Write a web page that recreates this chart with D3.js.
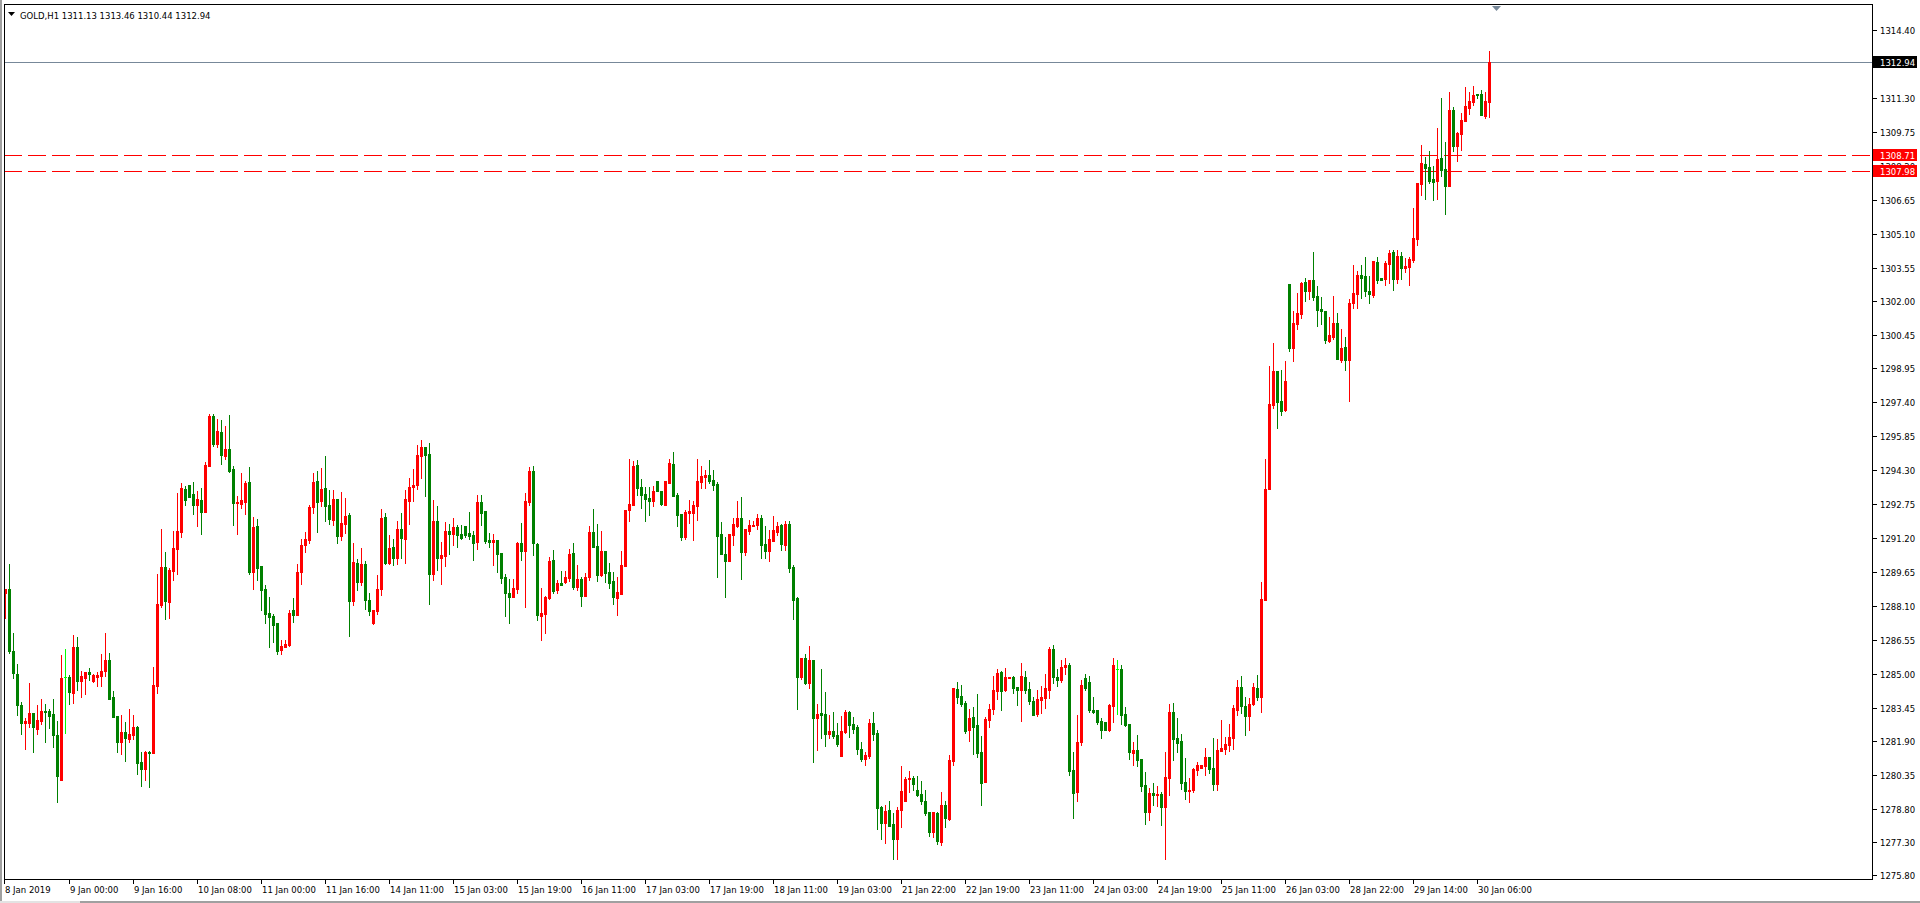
<!DOCTYPE html>
<html>
<head>
<meta charset="utf-8">
<script src="https://cdn.jsdelivr.net/npm/d3@7/dist/d3.min.js"></script>
<style>
html,body{margin:0;padding:0;background:#fff;overflow:hidden;}
svg{display:block;}
text{font-family:"DejaVu Sans",sans-serif;}
</style>
</head>
<body>
<svg id="chart" width="1920" height="903"></svg>
<script>
// ---- data (GOLD, H1) ----
const opens = [
1288.67,1288.86,1286.03,1284.98,1283.58,1282.76,1282.76,1283.20,1282.48,1282.83,
1283.29,1283.29,1283.15,1282.19,1280.15,1284.84,1284.84,1284.13,1286.21,1284.67,
1284.81,1285.07,1284.67,1284.86,1284.89,1285.12,1285.62,1283.93,1283.06,1281.89,
1282.33,1282.03,1282.21,1282.56,1280.96,1280.66,1281.42,1281.36,1284.45,1288.14,
1289.87,1288.29,1289.69,1290.71,1291.48,1293.43,1293.62,1293.21,1292.72,1292.93,
1292.40,1294.50,1296.77,1295.50,1296.04,1294.96,1295.26,1294.35,1292.81,1292.76,
1292.86,1293.75,1289.64,1291.74,1289.92,1288.87,1287.77,1287.63,1287.31,1286.08,
1286.22,1286.31,1287.91,1287.68,1289.64,1290.86,1291.10,1292.61,1293.80,1292.90,
1293.48,1292.70,1292.02,1292.98,1291.29,1291.83,1292.24,1288.32,1290.05,1289.18,
1290.01,1288.36,1287.31,1287.86,1288.86,1292.15,1290.05,1290.78,1290.28,1291.61,
1291.15,1292.89,1293.53,1293.62,1294.94,1295.35,1295.03,1289.55,1291.97,1290.28,
1290.37,1291.51,1291.38,1291.70,1291.38,1291.75,1291.43,1291.33,1291.02,1292.84,
1292.43,1291.11,1291.02,1291.11,1290.51,1289.42,1288.69,1288.50,1288.87,1290.97,
1290.60,1292.84,1294.26,1290.92,1287.64,1287.73,1288.46,1290.19,1288.82,1289.14,
1289.19,1289.37,1290.51,1288.96,1289.33,1288.55,1289.42,1291.47,1290.83,1289.51,
1290.60,1289.64,1289.23,1288.45,1288.64,1289.91,1292.47,1292.70,1294.53,1293.52,
1293.20,1293.02,1292.89,1293.80,1293.34,1292.70,1293.71,1294.57,1293.16,1292.29,
1291.24,1292.34,1292.34,1292.66,1293.75,1293.98,1294.07,1293.84,1293.66,1291.38,
1290.46,1290.14,1291.33,1291.74,1292.11,1290.55,1291.51,1291.74,1291.79,1292.11,
1290.92,1290.60,1291.06,1291.47,1291.79,1290.87,1291.83,1289.87,1288.45,1284.84,
1285.71,1284.57,1285.62,1282.97,1283.20,1283.15,1282.24,1282.38,1282.19,1281.24,
1282.33,1283.25,1282.70,1282.56,1281.56,1281.10,1281.24,1282.74,1282.29,1278.91,
1278.17,1278.77,1278.13,1277.44,1278.77,1279.18,1280.18,1280.23,1279.68,1279.50,
1279.18,1278.68,1277.76,1278.63,1277.31,1279.00,1278.36,1281.01,1284.30,1283.98,
1283.66,1282.42,1283.02,1282.65,1281.42,1280.05,1282.88,1283.38,1284.20,1285.07,
1284.25,1284.80,1284.84,1284.39,1284.25,1284.84,1284.30,1283.75,1283.15,1283.79,
1283.88,1284.25,1286.12,1284.84,1284.70,1285.30,1285.40,1280.60,1279.59,1281.88,
1284.80,1284.60,1283.34,1283.34,1282.83,1282.79,1282.42,1283.52,1285.20,1285.20,
1283.15,1282.70,1281.37,1281.51,1281.10,1279.91,1278.68,1279.55,1279.45,1279.50,
1278.91,1280.23,1283.25,1282.06,1281.92,1280.05,1279.64,1279.68,1280.60,1280.69,
1280.79,1281.17,1280.70,1279.95,1281.47,1281.56,1281.75,1282.06,1283.34,1284.39,
1283.53,1283.07,1283.62,1284.35,1283.94,1288.37,1293.44,1297.27,1298.83,1297.46,
1297.04,1302.80,1299.87,1300.97,1301.43,1302.89,1302.48,1302.99,1302.25,1301.66,
1301.57,1300.20,1300.37,1301.02,1299.34,1299.92,1299.34,1301.91,1302.34,1303.21,
1303.16,1302.48,1302.29,1303.80,1303.07,1303.02,1303.71,1304.26,1303.02,1304.07,
1303.53,1303.57,1303.89,1304.85,1307.36,1308.28,1308.14,1307.59,1307.50,1308.55,
1308.05,1307.27,1310.74,1309.10,1309.65,1310.24,1310.84,1311.11,1311.47,1311.47,
1310.47,1311.13
];
const highs = [
1288.86,1290.01,1286.85,1285.44,1283.69,1282.97,1284.57,1283.20,1283.58,1283.84,
1283.61,1283.38,1283.84,1282.83,1285.85,1286.12,1284.93,1286.76,1286.67,1285.12,
1285.07,1285.27,1284.98,1285.07,1285.90,1286.85,1285.94,1284.20,1283.06,1283.11,
1282.79,1283.38,1283.11,1282.60,1281.42,1281.48,1281.48,1285.30,1289.55,1291.61,
1290.56,1289.83,1291.51,1293.25,1293.71,1293.57,1293.62,1293.75,1293.34,1293.48,
1294.67,1296.86,1296.86,1296.63,1296.59,1296.31,1296.81,1294.48,1293.11,1294.16,
1293.78,1294.44,1292.16,1292.06,1289.92,1289.05,1288.50,1287.72,1287.31,1286.54,
1286.54,1287.91,1288.45,1290.01,1291.15,1291.47,1292.70,1294.16,1294.26,1294.39,
1294.94,1293.39,1293.39,1292.98,1293.30,1293.02,1292.34,1290.97,1290.24,1290.74,
1290.14,1288.68,1287.91,1289.50,1292.52,1292.34,1291.33,1291.15,1291.97,1292.34,
1293.39,1293.94,1294.35,1295.44,1295.67,1295.35,1295.53,1292.93,1292.66,1291.01,
1291.93,1291.83,1292.11,1291.79,1291.79,1291.75,1292.39,1291.52,1293.16,1293.16,
1292.43,1291.43,1291.38,1291.11,1290.51,1289.55,1289.33,1289.33,1291.02,1291.88,
1293.25,1294.44,1294.49,1290.97,1288.91,1288.55,1290.33,1290.65,1289.28,1289.69,
1289.69,1290.70,1290.97,1289.96,1289.42,1289.60,1291.75,1292.52,1291.84,1291.52,
1290.60,1290.05,1289.64,1289.41,1290.60,1292.47,1294.80,1294.71,1294.76,1293.89,
1293.52,1293.52,1293.57,1293.80,1293.34,1293.80,1294.80,1295.12,1293.25,1292.29,
1292.47,1292.93,1292.88,1294.80,1294.48,1294.30,1294.76,1294.30,1293.75,1291.93,
1291.24,1291.38,1292.11,1292.88,1293.07,1291.61,1292.02,1291.97,1292.29,1292.24,
1291.74,1291.56,1292.20,1291.92,1291.83,1291.97,1291.97,1289.96,1288.50,1285.71,
1285.89,1286.26,1285.62,1283.61,1285.21,1284.16,1283.11,1283.25,1282.74,1283.06,
1283.34,1283.29,1283.02,1282.65,1281.87,1281.42,1282.93,1283.25,1282.42,1278.95,
1279.00,1279.18,1278.63,1278.91,1280.78,1280.28,1280.55,1280.32,1280.32,1280.09,
1279.68,1278.68,1278.68,1278.68,1279.59,1279.18,1281.28,1284.34,1284.62,1284.48,
1283.75,1283.38,1283.47,1284.07,1282.15,1283.02,1283.61,1284.89,1285.21,1285.12,
1285.26,1284.84,1284.89,1284.39,1285.48,1285.12,1284.62,1283.93,1284.25,1284.43,
1284.98,1286.21,1286.31,1285.20,1285.60,1285.70,1285.50,1281.42,1283.11,1284.70,
1285.00,1284.90,1283.93,1283.34,1282.97,1282.79,1283.61,1285.70,1285.60,1285.40,
1283.47,1282.70,1281.88,1282.19,1281.10,1280.51,1279.77,1280.00,1279.87,1279.59,
1281.42,1283.61,1283.66,1282.97,1282.24,1281.14,1280.23,1280.69,1280.96,1280.83,
1281.62,1281.17,1282.06,1282.02,1282.88,1282.11,1282.71,1283.57,1284.71,1284.90,
1283.94,1283.89,1284.58,1284.94,1289.19,1294.81,1299.05,1300.11,1298.83,1298.88,
1299.29,1302.80,1301.57,1302.39,1302.89,1303.08,1302.99,1304.26,1302.72,1302.20,
1301.57,1301.29,1302.25,1301.47,1300.75,1300.37,1302.12,1303.66,1303.39,1303.66,
1304.03,1303.16,1303.85,1304.03,1303.07,1303.85,1304.35,1304.35,1304.35,1304.26,
1303.98,1304.03,1306.27,1307.41,1309.15,1308.60,1308.87,1308.19,1309.92,1311.29,
1309.28,1311.57,1310.88,1309.74,1310.61,1311.79,1311.57,1311.84,1311.47,1311.66,
1311.57,1313.46
];
const lows = [
1287.55,1285.92,1284.78,1283.12,1282.24,1281.57,1282.57,1281.43,1282.24,1282.69,
1281.89,1282.53,1281.66,1279.15,1280.15,1282.30,1283.62,1283.67,1284.25,1283.94,
1284.08,1284.72,1284.63,1284.45,1284.45,1284.90,1283.85,1283.03,1281.43,1281.34,
1281.02,1281.89,1282.03,1280.43,1279.88,1280.15,1279.83,1281.36,1284.13,1288.06,
1287.50,1287.54,1289.28,1289.55,1291.26,1292.70,1293.08,1292.29,1291.74,1291.38,
1292.40,1294.50,1295.41,1295.37,1294.59,1294.82,1294.23,1291.79,1291.38,1292.58,
1292.29,1289.55,1288.87,1289.28,1287.91,1287.31,1286.22,1286.44,1285.90,1285.90,
1286.22,1286.26,1287.36,1287.68,1289.09,1290.57,1290.97,1292.34,1291.47,1292.66,
1291.97,1291.83,1291.79,1290.97,1291.10,1291.42,1286.72,1288.13,1288.82,1289.05,
1287.95,1287.68,1287.27,1287.72,1288.59,1290.01,1290.01,1289.96,1290.01,1290.28,
1290.05,1291.83,1292.89,1293.43,1293.94,1293.11,1288.18,1289.28,1289.73,1289.09,
1289.91,1290.46,1290.87,1290.79,1291.15,1291.24,1291.15,1290.19,1290.70,1291.79,
1290.97,1290.79,1289.96,1289.64,1289.14,1287.64,1287.32,1288.50,1288.69,1290.19,
1288.05,1292.70,1290.42,1287.45,1286.54,1286.86,1288.41,1288.69,1288.69,1289.05,
1289.14,1289.23,1288.87,1288.82,1288.09,1288.55,1289.28,1290.79,1289.23,1289.46,
1289.18,1288.91,1288.18,1287.68,1288.64,1289.91,1291.97,1292.70,1293.16,1292.56,
1291.97,1292.25,1292.66,1293.34,1292.70,1292.70,1293.71,1293.11,1291.74,1291.10,
1291.15,1291.88,1291.10,1292.02,1293.48,1293.48,1293.71,1293.39,1289.41,1290.46,
1288.50,1290.14,1290.87,1291.70,1289.32,1290.42,1291.38,1291.74,1291.60,1290.28,
1290.28,1290.14,1291.06,1291.33,1290.65,1290.65,1289.64,1287.49,1283.38,1284.75,
1284.52,1284.34,1280.96,1281.51,1282.06,1281.69,1282.06,1282.06,1281.69,1281.24,
1282.29,1282.10,1282.29,1281.33,1281.01,1280.82,1281.14,1281.97,1277.90,1277.44,
1277.26,1278.04,1276.53,1276.53,1277.99,1279.18,1279.59,1279.68,1279.41,1279.04,
1278.54,1277.58,1277.54,1277.22,1277.17,1277.99,1278.31,1280.82,1283.66,1283.52,
1282.29,1281.92,1281.33,1281.19,1279.00,1280.05,1282.56,1283.15,1283.84,1283.34,
1284.20,1284.80,1284.11,1283.57,1282.83,1284.11,1283.61,1283.11,1283.06,1283.20,
1283.43,1283.88,1284.57,1284.45,1284.60,1285.00,1280.37,1278.40,1279.18,1281.74,
1284.25,1283.25,1283.20,1282.70,1282.06,1282.42,1282.38,1282.79,1283.15,1282.70,
1282.61,1281.10,1280.83,1280.78,1279.64,1278.13,1278.31,1278.99,1278.95,1278.08,
1276.53,1279.45,1281.05,1281.42,1279.73,1279.27,1279.14,1279.59,1280.37,1280.69,
1280.35,1280.48,1279.70,1279.70,1281.47,1281.31,1281.47,1281.56,1283.12,1283.20,
1282.21,1282.43,1283.57,1283.80,1283.26,1288.37,1293.44,1297.13,1296.22,1296.82,
1296.99,1299.75,1299.29,1300.75,1301.26,1302.03,1302.12,1302.07,1300.88,1300.97,
1300.11,1300.15,1300.30,1299.37,1299.24,1298.88,1297.46,1301.68,1301.70,1302.16,
1302.25,1301.93,1302.20,1302.84,1302.98,1302.75,1302.84,1302.52,1302.84,1303.02,
1303.34,1302.75,1303.80,1304.59,1306.86,1306.68,1307.41,1306.63,1306.68,1307.73,
1305.99,1307.27,1308.87,1308.41,1308.92,1310.24,1310.56,1310.97,1311.29,1310.52,
1310.38,1310.44
];
const closes = [
1288.86,1286.05,1285.01,1283.58,1282.76,1282.83,1283.20,1282.54,1282.88,1283.29,
1283.24,1283.06,1282.19,1280.34,1284.81,1284.84,1284.17,1286.21,1284.67,1284.89,
1285.07,1284.99,1284.93,1284.93,1285.12,1285.62,1283.85,1283.03,1281.89,1282.33,
1282.07,1282.24,1282.56,1280.93,1280.66,1281.42,1281.36,1284.48,1288.18,1289.87,
1288.32,1289.73,1290.74,1291.51,1293.48,1292.95,1293.08,1292.72,1292.98,1292.40,
1294.53,1296.77,1295.50,1296.08,1295.00,1295.26,1294.27,1292.81,1292.86,1292.93,
1293.71,1289.64,1291.70,1289.84,1288.82,1287.72,1287.59,1287.22,1286.03,1286.26,
1286.35,1287.77,1287.68,1289.64,1290.88,1291.15,1292.61,1293.75,1292.85,1293.43,
1292.67,1292.06,1292.98,1291.29,1291.88,1292.20,1288.32,1290.10,1289.18,1290.01,
1288.36,1287.86,1287.91,1288.86,1292.11,1290.05,1290.74,1290.28,1291.61,1291.20,
1292.98,1293.53,1293.62,1294.99,1295.35,1294.99,1289.55,1291.97,1290.28,1290.42,
1291.51,1291.38,1291.70,1291.33,1291.20,1291.33,1291.29,1290.97,1292.84,1292.34,
1291.06,1291.02,1291.11,1290.47,1289.37,1288.69,1288.50,1288.91,1290.97,1290.60,
1292.89,1294.26,1290.97,1287.68,1287.77,1288.50,1290.15,1288.78,1289.14,1289.05,
1289.42,1290.47,1288.96,1289.33,1288.55,1289.42,1291.47,1290.79,1289.51,1290.60,
1289.60,1289.14,1288.50,1288.73,1289.96,1292.47,1292.75,1294.48,1293.48,1293.16,
1292.98,1292.89,1293.34,1293.34,1292.75,1293.80,1294.62,1293.11,1292.25,1291.24,
1292.38,1292.43,1292.70,1293.80,1294.03,1294.07,1293.80,1293.62,1291.29,1290.46,
1290.14,1291.38,1291.83,1292.11,1290.55,1291.61,1291.79,1291.79,1292.11,1290.87,
1290.60,1291.15,1291.56,1291.74,1290.92,1291.83,1289.82,1288.36,1284.84,1285.71,
1284.57,1285.62,1282.97,1283.15,1283.11,1282.24,1282.38,1282.15,1281.78,1282.38,
1283.25,1282.65,1282.47,1281.56,1281.10,1281.28,1282.74,1282.24,1278.86,1278.17,
1278.72,1278.04,1277.44,1278.77,1279.64,1280.18,1280.23,1279.96,1279.45,1279.18,
1278.63,1277.76,1278.68,1277.35,1279.00,1278.40,1281.05,1284.34,1283.93,1283.61,
1282.38,1282.97,1282.56,1281.37,1280.00,1282.93,1283.38,1284.25,1285.03,1284.20,
1284.84,1284.84,1284.34,1284.25,1284.89,1284.25,1283.75,1283.11,1283.84,1283.93,
1284.34,1286.12,1284.84,1284.70,1285.30,1285.40,1280.55,1279.55,1281.88,1284.50,
1284.35,1283.34,1283.25,1282.79,1282.42,1282.42,1283.57,1285.40,1285.20,1283.11,
1282.65,1281.42,1281.51,1281.05,1279.87,1278.68,1279.55,1279.45,1279.50,1278.91,
1280.28,1283.25,1282.01,1281.83,1280.00,1279.64,1279.68,1280.64,1280.83,1280.83,
1281.17,1280.63,1279.95,1281.51,1281.62,1281.80,1282.11,1283.43,1284.39,1283.53,
1283.07,1283.62,1284.39,1283.94,1288.42,1293.44,1297.32,1298.83,1297.42,1296.99,
1298.38,1299.87,1301.02,1301.47,1302.84,1302.48,1302.99,1302.20,1301.62,1301.57,
1300.25,1300.47,1301.02,1299.37,1299.87,1299.34,1301.93,1302.38,1303.21,1303.07,
1302.48,1302.34,1303.85,1302.98,1302.98,1303.76,1304.21,1303.02,1304.07,1303.53,
1303.62,1303.94,1304.90,1307.41,1308.32,1308.09,1307.50,1307.45,1308.51,1308.00,
1307.27,1310.74,1309.10,1309.69,1310.29,1310.93,1311.16,1311.43,1311.43,1310.52,
1311.16,1312.94
];

const timeLabels = ["8 Jan 2019","9 Jan 00:00","9 Jan 16:00","10 Jan 08:00","11 Jan 00:00","11 Jan 16:00",
  "14 Jan 11:00","15 Jan 03:00","15 Jan 19:00","16 Jan 11:00","17 Jan 03:00","17 Jan 19:00",
  "18 Jan 11:00","19 Jan 03:00","21 Jan 22:00","22 Jan 19:00","23 Jan 11:00","24 Jan 03:00",
  "24 Jan 19:00","25 Jan 11:00","26 Jan 03:00","28 Jan 22:00","29 Jan 14:00","30 Jan 06:00"];
const labelEvery = 16; // bars between time labels

const priceTicks = ["1314.40","1312.85","1311.30","1309.75","1308.20","1306.65","1305.10","1303.55",
  "1302.00","1300.45","1298.95","1297.40","1295.85","1294.30","1292.75","1291.20","1289.65",
  "1288.10","1286.55","1285.00","1283.45","1281.90","1280.35","1278.80","1277.30","1275.80"];

const symbolTitle = "GOLD,H1";
const bidPrice = 1312.94;
const levelLines = [1308.71, 1307.98];

// ---- layout ----
const svg = d3.select("#chart");
const frame = {left: 4, top: 4, right: 1872, bottom: 879};
const n = closes.length;

const x = d3.scaleLinear().domain([0, n - 1]).range([5.5, 5.5 + 4 * (n - 1)]);
const y = d3.scaleLinear().domain([1275.80, 1314.40]).range([875, 30]);

svg.append("rect").attr("width", 1920).attr("height", 903).attr("fill", "#ffffff");
// window edges
svg.append("rect").attr("x", 0).attr("y", 0).attr("width", 2).attr("height", 903).attr("fill", "#a0a0a0");
svg.append("rect").attr("x", 0).attr("y", 901).attr("width", 80).attr("height", 2).attr("fill", "#e3e3e3");
svg.append("rect").attr("x", 80).attr("y", 901).attr("width", 1840).attr("height", 2).attr("fill", "#a0a0a0");

svg.append("clipPath").attr("id", "plotclip").append("rect")
  .attr("x", frame.left + 1).attr("y", frame.top + 1)
  .attr("width", frame.right - frame.left - 1).attr("height", frame.bottom - frame.top - 1);

const plot = svg.append("g").attr("clip-path", "url(#plotclip)").attr("shape-rendering", "crispEdges");

// level lines (dashed red)
levelLines.forEach(v => {
  const yy = Math.round(y(v)) + 0.5;
  plot.append("line").attr("x1", frame.left).attr("x2", frame.right)
    .attr("y1", yy).attr("y2", yy)
    .attr("stroke", "#ff0000").attr("stroke-width", 1).attr("stroke-dasharray", "18,6");
});
// bid line
{
  const yy = Math.round(y(bidPrice)) + 0.5;
  plot.append("line").attr("x1", frame.left).attr("x2", frame.right)
    .attr("y1", yy).attr("y2", yy).attr("stroke", "#778899").attr("stroke-width", 1);
}

const bars = d3.range(n).map(i => ({i, o: opens[i], h: highs[i], l: lows[i], c: closes[i]}));
const colorOf = d => d.c > d.o ? "#ff0000" : (d.c < d.o ? "#008000" : "#00ff00");

const g = plot.selectAll("g.bar").data(bars).join("g").attr("class", "bar");
g.append("rect")
  .attr("x", d => Math.floor(x(d.i)))
  .attr("width", 1)
  .attr("y", d => Math.round(y(d.h)))
  .attr("height", d => Math.max(1, Math.round(y(d.l)) - Math.round(y(d.h)) + 1))
  .attr("fill", colorOf);
g.append("rect")
  .attr("x", d => Math.floor(x(d.i)) - 1)
  .attr("width", 3)
  .attr("y", d => Math.round(y(Math.max(d.o, d.c))))
  .attr("height", d => Math.max(1, Math.round(y(Math.min(d.o, d.c))) - Math.round(y(Math.max(d.o, d.c))) + 1))
  .attr("fill", colorOf);

// frame
svg.append("rect").attr("x", frame.left + 0.5).attr("y", frame.top + 0.5)
  .attr("width", frame.right - frame.left).attr("height", frame.bottom - frame.top)
  .attr("fill", "none").attr("stroke", "#000").attr("stroke-width", 1).attr("shape-rendering", "crispEdges");

// chart shift marker
svg.append("path").attr("d", "M1492,6 L1501,6 L1496.5,11 Z").attr("fill", "#778899");

// header
svg.append("path").attr("d", "M8,12 L15,12 L11.5,16 Z").attr("fill", "#000");
svg.append("text").attr("x", 20).attr("y", 19).attr("font-size", "8.5px").attr("fill", "#000")
  .text(symbolTitle + "  " + [opens[n-1], highs[n-1], lows[n-1], closes[n-1]].map(v => v.toFixed(2)).join(" "));

// price axis
const ya = svg.append("g");
priceTicks.forEach(t => {
  const yy = Math.round(y(+t));
  ya.append("rect").attr("x", frame.right + 1).attr("y", yy).attr("width", 4).attr("height", 1).attr("fill", "#000");
  ya.append("text").attr("x", frame.right + 8).attr("y", yy + 3.5).attr("font-size", "8.5px").attr("fill", "#000").text(t);
});
function priceBox(v, bg) {
  const yy = Math.round(y(v));
  ya.append("rect").attr("x", frame.right + 1).attr("y", yy - 6).attr("width", 44).attr("height", 12).attr("fill", bg);
  ya.append("text").attr("x", frame.right + 8).attr("y", yy + 3.5).attr("font-size", "8.5px").attr("fill", "#fff").text(v.toFixed(2));
}
priceBox(bidPrice, "#000000");
levelLines.forEach(v => priceBox(v, "#ff0000"));

// time axis
const xa = svg.append("g");
timeLabels.forEach((t, j) => {
  const xx = j === 0 ? frame.left : Math.floor(x(j * labelEvery));
  xa.append("rect").attr("x", xx).attr("y", frame.bottom + 1).attr("width", 1).attr("height", 4).attr("fill", "#000");
  xa.append("text").attr("x", xx + 1).attr("y", 893).attr("font-size", "8.5px").attr("fill", "#000").text(t);
});
</script>
</body>
</html>
